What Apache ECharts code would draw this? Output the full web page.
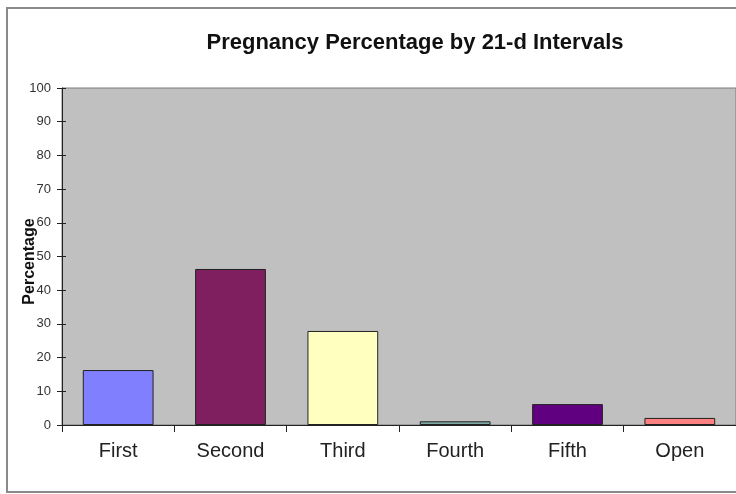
<!DOCTYPE html>
<html>
<head>
<meta charset="utf-8">
<script src="https://cdn.jsdelivr.net/npm/echarts@6/dist/echarts.min.js"></script>
<style>
  html, body { margin: 0; padding: 0; background: #fff; }
  #chart { width: 736px; height: 494px; }
</style>
</head>
<body>
<div id="chart"></div>
<script>
// data
var categories = ["First", "Second", "Third", "Fourth", "Fifth", "Open"];
var percentages = [16.3, 46.3, 27.9, 1.1, 6.2, 2.1];
var barColors = ["#8080ff", "#7f1f5f", "#ffffc0", "#7fa9a5", "#600080", "#ff8080"];

var chart = echarts.init(document.getElementById("chart"));
var font = "Liberation Sans, Arial, sans-serif";

chart.setOption({
  animation: false,
  graphic: [
    {
      type: "rect",
      shape: { x: 7, y: 8, width: 760, height: 484 },
      style: { fill: "none", stroke: "#8a8a8a", lineWidth: 2 },
      z: -10
    }
  ],
  title: {
    text: "Pregnancy Percentage by 21-d Intervals",
    left: 410,
    textAlign: "center",
    top: 27,
    textStyle: { fontFamily: font, fontSize: 22, fontWeight: "bold", color: "#111" }
  },
  grid: {
    left: 62,
    right: 0,
    top: 88,
    bottom: 69,
    containLabel: false,
    outerBoundsMode: "none",
    show: true,
    backgroundColor: "#c0c0c0",
    borderColor: "#7a7a7a",
    borderWidth: 1
  },
  xAxis: {
    type: "category",
    data: categories,
    axisLine: { lineStyle: { color: "#222", width: 1 } },
    axisTick: { show: true, length: 7, lineStyle: { color: "#222" } },
    axisLabel: { fontFamily: font, fontSize: 20, color: "#222", margin: 16 },
    splitLine: { show: false }
  },
  yAxis: [
    {
      type: "value",
      min: 0,
      max: 100,
      interval: 10,
      name: "Percentage",
      nameLocation: "middle",
      nameGap: 24,
      nameMoveOverlap: false,
      nameRotate: 90,
      nameTextStyle: { fontFamily: font, fontSize: 16, fontWeight: "bold", color: "#111", padding: [0, 10, 0, 0] },
      axisLine: { show: true, lineStyle: { color: "#222" } },
      axisTick: { show: true, length: 5, lineStyle: { color: "#222" } },
      axisLabel: { fontFamily: font, fontSize: 13, color: "#333", margin: 11 },
      splitLine: { show: false }
    },
    {
      type: "value",
      min: 0,
      max: 100,
      interval: 10,
      position: "left",
      axisLine: { show: false },
      axisTick: { show: true, inside: true, length: 4, lineStyle: { color: "#222" } },
      axisLabel: { show: false },
      splitLine: { show: false }
    }
  ],
  series: [
    {
      type: "bar",
      data: percentages.map(function (v, i) {
        return { value: v, itemStyle: { color: barColors[i] } };
      }),
      barWidth: "63%",
      itemStyle: { borderColor: "#222", borderWidth: 1 }
    }
  ]
});
</script>
</body>
</html>
